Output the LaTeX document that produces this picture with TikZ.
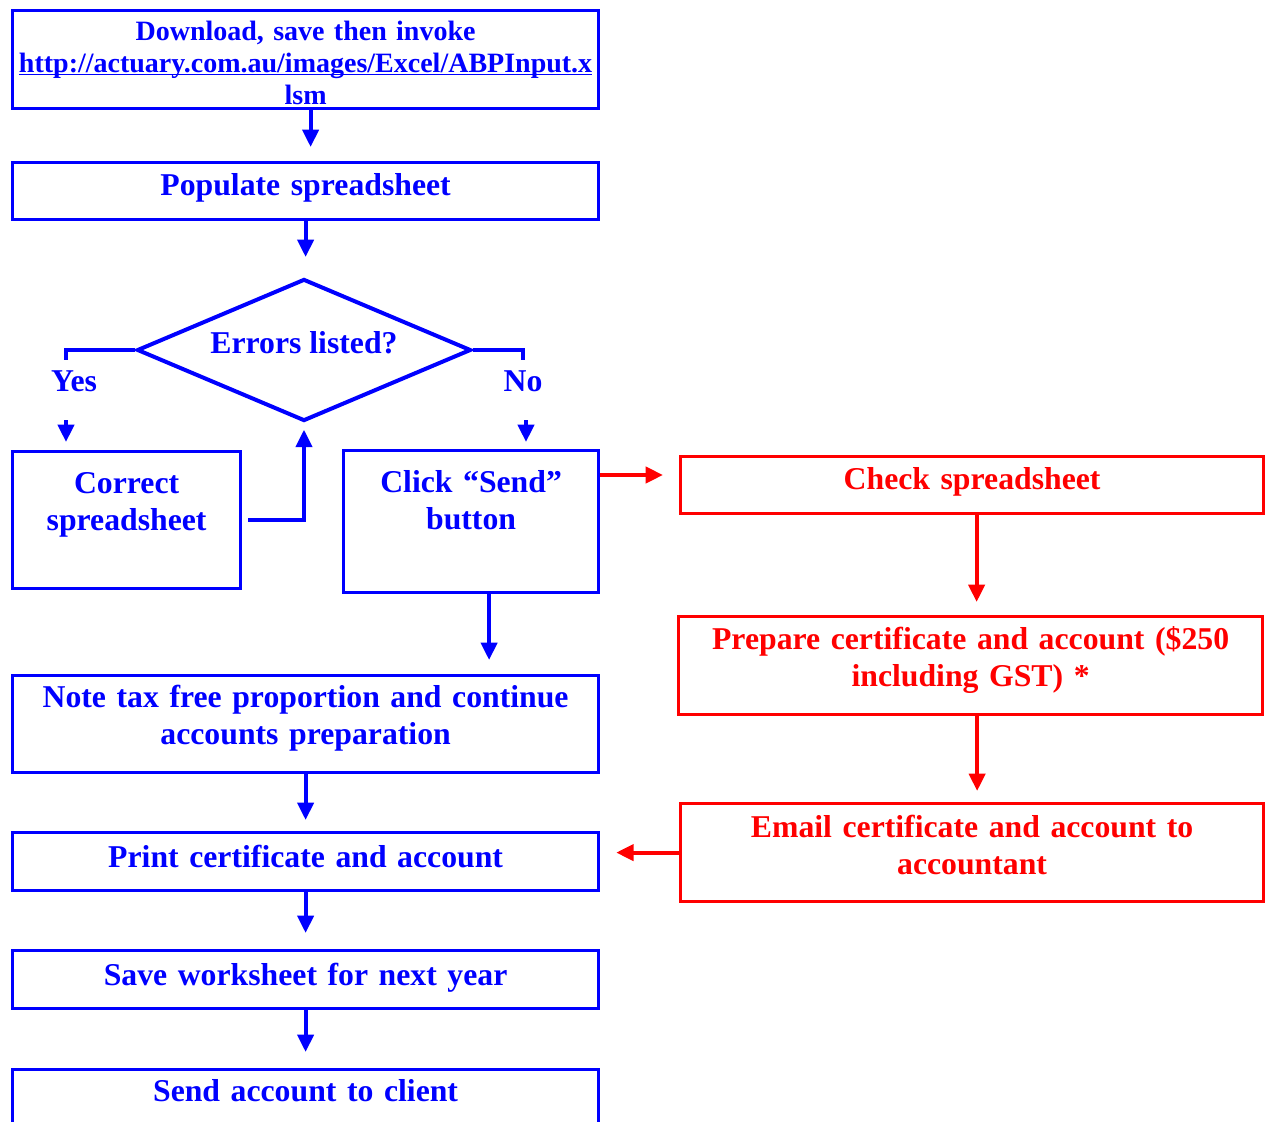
\documentclass[tikz,border=0pt]{standalone}
\usepackage{fontspec}
\setmainfont{Liberation Serif}
\usetikzlibrary{arrows.meta, shapes.geometric, calc, positioning}
\newcommand\urlline[1]{\leavevmode\setbox0\hbox{#1}\rlap{\rule[-2.4pt]{\wd0}{1.3pt}}\box0}

\begin{document}
\begin{tikzpicture}[x=0.75pt, y=-0.75pt,
            blk/.style={
                draw=blue,
                line width=2.4pt,
                text=blue,
                anchor=north west,
                inner sep=0pt,
                align=center,
                font=\fontsize{23.8}{28}\selectfont\bfseries
            },
            redblk/.style={blk, draw=red, text=red},
            lbl/.style={text=blue, font=\fontsize{23.8}{28}\selectfont\bfseries},
            arr/.style={draw=blue, line width=3pt,
                -{Triangle[length=13pt,width=12pt]}, shorten >=10.5pt},
            redarr/.style={arr, draw=red},
            bline/.style={draw=blue, line width=3pt}]
            \useasboundingbox (0,0) rectangle (1265,1122);

            \node[blk, text width=439.5pt, text height=22.1pt, text depth=51.4pt,
                font=\fontsize{21}{24}\selectfont\bfseries] (dl) at (11,9)
                {Download, save then invoke\\
                \urlline{http://actuary.com.au/images/Excel/ABPInput.x}\\lsm};
            \node[blk, text width=439.5pt, text height=24.75pt, text depth=18pt] (pop) at (11,161)
                {Populate spreadsheet};
            \node[diamond, aspect=2.35, draw=blue, line width=3pt, inner sep=0pt,
                minimum width=250.5pt, minimum height=106.5pt,
                text height=17pt, text depth=11.5pt,
                text=blue, font=\fontsize{23.8}{28}\selectfont\bfseries] (dia) at (304,350)
                {Errors listed?};
            \node[lbl] (yes) at (74,381) {Yes};
            \node[lbl] (no) at (523,381) {No};
            \node[blk, text width=171pt, text height=31.5pt, text depth=71.25pt] (corr) at (11,450)
                {Correct\\spreadsheet};
            \node[blk, text width=191.25pt, text height=31.5pt, text depth=75pt] (click) at (342,449)
                {Click ``Send''\\button};
            \node[redblk, text width=437.25pt, text height=24.75pt, text depth=18pt] (check) at (679,455)
                {Check spreadsheet};
            \node[redblk, text width=438pt, text height=24.75pt, text depth=48.75pt] (prep) at (677,615)
                {Prepare certificate and account (\$250\\including GST) *};
            \node[redblk, text width=437.25pt, text height=25.5pt, text depth=48pt] (mail) at (679,802)
                {Email certificate and account to\\accountant};
            \node[blk, text width=439.5pt, text height=24pt, text depth=48.75pt] (note) at (11,674)
                {Note tax free proportion and continue\\accounts preparation};
            \node[blk, text width=439.5pt, text height=26.25pt, text depth=17.25pt] (print) at (11,831)
                {Print certificate and account};
            \node[blk, text width=439.5pt, text height=26.25pt, text depth=17.25pt] (save) at (11,949)
                {Save worksheet for next year};
            \node[blk, text width=439.5pt, text height=24pt, text depth=19.5pt] (send) at (11,1068)
                {Send account to client};

            \coordinate (yestop) at (66,360);
            \coordinate (notop) at (523,360);
            \coordinate (yesarr) at (66,420);
            \coordinate (noarr) at (526,420);

            \draw[arr] ([xshift=3.75pt]dl.south) -- ([xshift=3.75pt]pop.north);
            \draw[arr, shorten >=15pt] (pop.south) -- (pop.south |- dia.north);
            \draw[bline] (dia.west) -| (yestop);
            \draw[bline] (dia.east) -| (notop);
            \draw[arr, shorten >=6pt] (yesarr) -- (yesarr |- corr.north);
            \draw[arr, shorten >=5.25pt] (noarr) -- (noarr |- click.north);
            \draw[arr, shorten >=5pt] ([xshift=4.5pt]corr.east) -| (dia.south);
            \draw[arr] ([xshift=13.5pt]click.south) -- ([xshift=13.5pt]click.south |- note.north);
            \draw[redarr, shorten >=12pt] ([yshift=-19.5pt]click.north east) coordinate (c1) -- (c1 -| check.west);
            \draw[redarr, shorten >=9.75pt] ([xshift=3.4pt]check.south) -- ([xshift=3.4pt]check.south |- prep.north);
            \draw[redarr, shorten >=8.25pt] ([xshift=4.9pt]prep.south) -- ([xshift=4.9pt]prep.south |- mail.north);
            \draw[redarr, shorten >=12pt] (mail.west) -- (mail.west -| print.east);
            \draw[arr, shorten >=8.25pt] (note.south) -- (print.north);
            \draw[arr, shorten >=12pt] (print.south) -- (save.north);
            \draw[arr, shorten >=12pt] (save.south) -- (send.north);
\end{tikzpicture}
\end{document}
